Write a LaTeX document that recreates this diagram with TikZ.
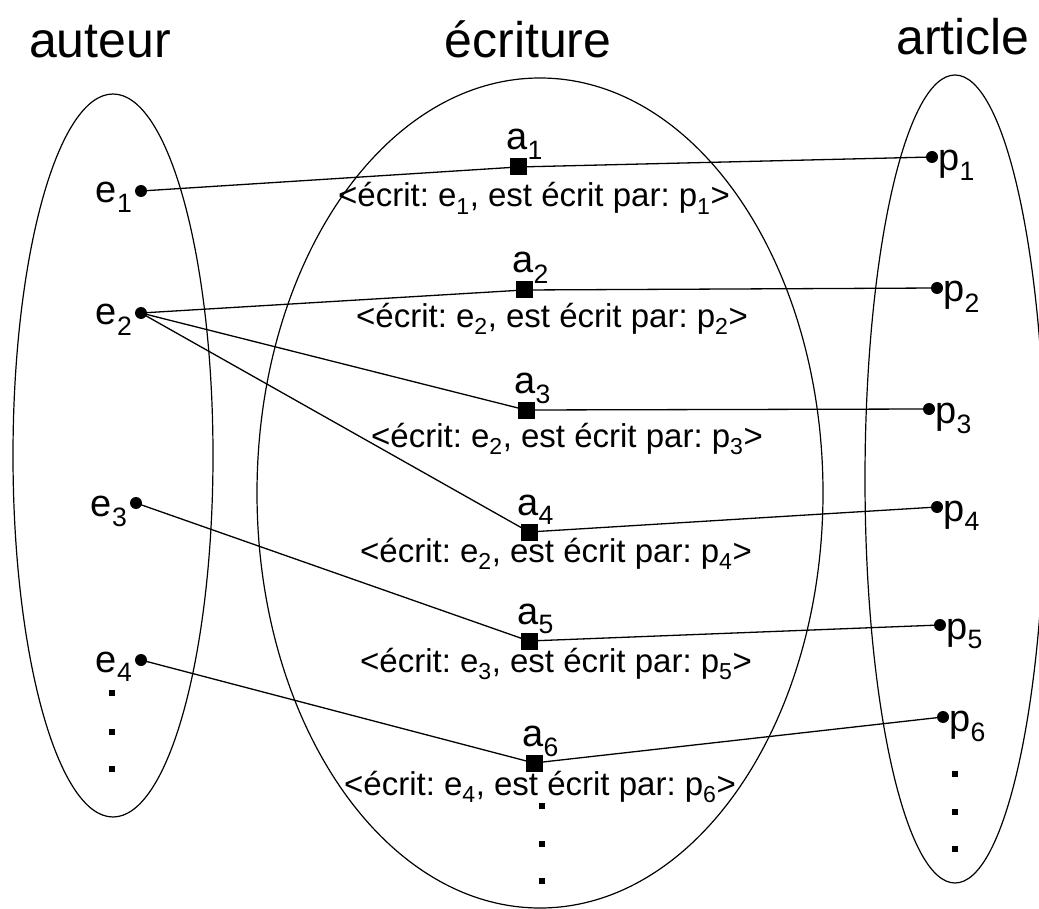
\documentclass[tikz,border=0pt]{standalone}
\usepackage{fontspec}
\setmainfont{Liberation Sans}
\frenchspacing
\begin{document}
\begin{tikzpicture}[x=1pt,y=-1pt,line width=1.2pt,
  edot/.style={circle,fill,inner sep=0pt,minimum size=12pt},
  asq/.style={rectangle,fill,inner sep=0pt,minimum size=17pt},
  sdot/.style={rectangle,fill,inner sep=0pt,minimum size=6pt},
  title/.style={font=\fontsize{50}{60}\selectfont,inner sep=0pt,anchor=base},
  nlab/.style={font=\fontsize{38}{44}\selectfont,inner sep=0pt},
  elab/.style={font=\fontsize{33}{38}\selectfont,inner sep=0pt,anchor=base},
  link/.style={line width=1.3pt}]
\useasboundingbox (0,0) rectangle (1039,909);
% sets
\draw (113,455.5) ellipse [x radius=100pt, y radius=361.5pt];
\draw (540,493) ellipse [x radius=283pt, y radius=415pt];
\draw (955,479) ellipse [x radius=90pt, y radius=404pt];
% titles
\node[title] (tA) at (100,58) {auteur};
\node[title] (tE) at (528,58) {écriture};
\node[title] (tR) at (963,55) {article};
% authors
\node[edot] (e1) at (141,191) {};
\node[edot] (e2) at (141,313) {};
\node[edot] (e3) at (136,503) {};
\node[edot] (e4) at (141,660) {};
\node[nlab,anchor=base east] (le1) at (133,203) {e\textsubscript{1}};
\node[nlab,anchor=base east] (le2) at (133,325) {e\textsubscript{2}};
\node[nlab,anchor=base east] (le3) at (128,516) {e\textsubscript{3}};
\node[nlab,anchor=base east] (le4) at (133,672) {e\textsubscript{4}};
\node[sdot] (ld1) at (112,693) {};
\node[sdot] (ld2) at (112,732) {};
\node[sdot] (ld3) at (112,769) {};
% writings
\node[asq] (a1) at (518,167) {};
\node[asq] (a2) at (524,290) {};
\node[asq] (a3) at (526,410) {};
\node[asq] (a4) at (529,532) {};
\node[asq] (a5) at (529,641) {};
\node[asq] (a6) at (534,763) {};
\foreach \i/\x/\y in {1/518/167,2/524/290,3/526/410,4/529/532,5/529/641,6/534/763}{
  \node[nlab,anchor=base west] (la\i) at (\x-12,\y-17) {a\textsubscript{\i}};
}
\node[sdot] (md1) at (542,806) {};
\node[sdot] (md2) at (542,844) {};
\node[sdot] (md3) at (542,881) {};
% articles
\node[edot] (p1) at (932,157) {};
\node[edot] (p2) at (937,288) {};
\node[edot] (p3) at (929,409) {};
\node[edot] (p4) at (937,507) {};
\node[edot] (p5) at (940,625) {};
\node[edot] (p6) at (943,717) {};
\foreach \i/\x/\y in {1/932/157,2/937/288,3/929/409,4/937/507,5/940/625,6/943/717}{
  \node[nlab,anchor=base west] (lp\i) at (\x+6,\y+14) {p\textsubscript{\i}};
}
\node[sdot] (rd1) at (955,774) {};
\node[sdot] (rd2) at (955,812) {};
\node[sdot] (rd3) at (955,849) {};
% links
\draw[link] (e1.center) -- (a1.center) -- (p1.center);
\draw[link] (e2.center) -- (a2.center) -- (p2.center);
\draw[link] (e2.center) -- (a3.center) -- (p3.center);
\draw[link] (e2.center) -- (a4.center) -- (p4.center);
\draw[link] (e3.center) -- (a5.center) -- (p5.center);
\draw[link] (e4.center) -- (a6.center) -- (p6.center);
% edge labels
\node[elab] (l1) at (534,207) {<écrit: e\textsubscript{1}, est écrit par: p\textsubscript{1}>};
\node[elab] (l2) at (552,327) {<écrit: e\textsubscript{2}, est écrit par: p\textsubscript{2}>};
\node[elab] (l3) at (567,447) {<écrit: e\textsubscript{2}, est écrit par: p\textsubscript{3}>};
\node[elab] (l4) at (556,562) {<écrit: e\textsubscript{2}, est écrit par: p\textsubscript{4}>};
\node[elab] (l5) at (556,672) {<écrit: e\textsubscript{3}, est écrit par: p\textsubscript{5}>};
\node[elab] (l6) at (540,795) {<écrit: e\textsubscript{4}, est écrit par: p\textsubscript{6}>};
\end{tikzpicture}
\end{document}
